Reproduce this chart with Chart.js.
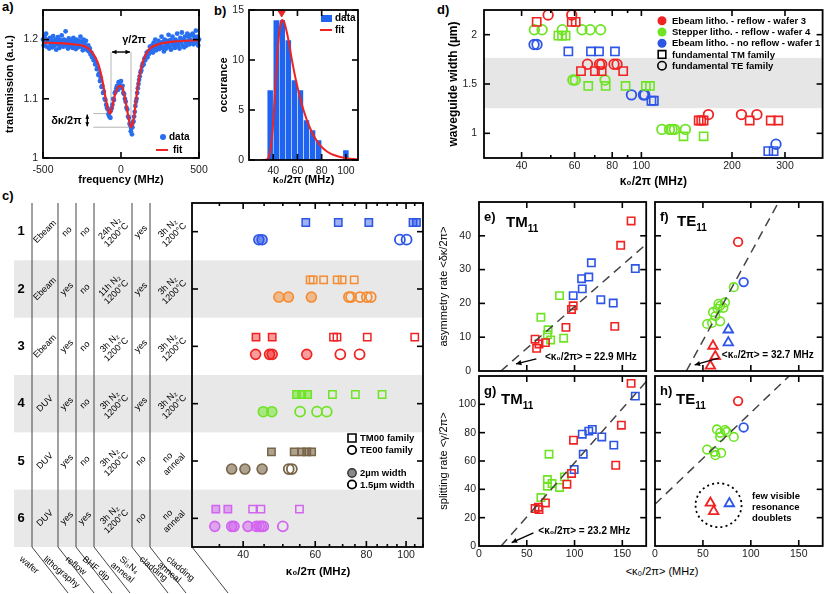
<!DOCTYPE html>
<html>
<head>
<meta charset="utf-8">
<title>resonance splitting</title>
<script src="https://cdn.jsdelivr.net/npm/chart.js@4.4.1/dist/chart.umd.min.js"></script>
<style>
  body { margin: 0; width: 830px; height: 594px; position: relative; overflow: hidden; background: #fff;
         font-family: 'Liberation Sans', Arial, sans-serif; color: #000; }
  .tag { position: absolute; font-weight: bold; font-size: 13px; line-height: 13px; }
  .ttl { position: absolute; font-size: 11px; text-align: center; white-space: nowrap; }
</style>
</head>
<body>
<div class="tag" style="left:2px;top:0px">a)</div>
<div class="tag" style="left:214px;top:4px">b)</div>
<div class="tag" style="left:2px;top:189px">c)</div>
<div class="tag" style="left:437px;top:3px">d)</div>
<div class="ttl" style="left:602px;top:565px;width:120px">&lt;κ₀/2π&gt; (MHz)</div>
<script>
// ---------- a) transmission trace (frequency MHz, transmission) ----------
const traceA = [
  [-500,1.2],[-495,1.19],[-490,1.205],[-485,1.195],[-480,1.21],[-475,1.188],[-470,1.2],[-465,1.197],[-460,1.185],[-455,1.203],
  [-450,1.192],[-445,1.199],[-440,1.187],[-435,1.206],[-430,1.195],[-425,1.19],[-420,1.2],[-415,1.183],[-410,1.197],[-405,1.204],
  [-400,1.192],[-395,1.186],[-390,1.199],[-385,1.19],[-380,1.207],[-375,1.196],[-370,1.188],[-365,1.2],[-360,1.193],[-355,1.214],
  [-350,1.19],[-345,1.198],[-340,1.185],[-335,1.202],[-330,1.195],[-325,1.189],[-320,1.199],[-315,1.194],[-310,1.186],[-305,1.203],
  [-300,1.191],[-295,1.197],[-290,1.184],[-285,1.2],[-280,1.193],[-275,1.187],[-270,1.198],[-265,1.19],[-260,1.205],[-255,1.188],
  [-250,1.196],[-245,1.182],[-240,1.2],[-235,1.193],[-230,1.186],[-225,1.198],[-220,1.188],[-215,1.182],[-210,1.19],[-205,1.18],
  [-200,1.185],[-195,1.175],[-190,1.178],[-185,1.17],[-180,1.172],[-175,1.165],[-170,1.168],[-165,1.158],[-160,1.16],[-155,1.15],
  [-150,1.152],[-145,1.14],[-140,1.143],[-135,1.13],[-130,1.135],[-125,1.12],[-120,1.122],[-115,1.11],[-110,1.112],[-105,1.1],
  [-100,1.098],[-95,1.09],[-90,1.085],[-85,1.082],[-80,1.074],[-75,1.07],[-72,1.078],[-68,1.068],[-65,1.08],[-60,1.084],
  [-55,1.09],[-50,1.1],[-45,1.098],[-40,1.11],[-35,1.112],[-30,1.118],[-25,1.122],[-20,1.115],[-15,1.128],[-10,1.125],
  [-5,1.12],[0,1.13],[5,1.118],[10,1.122],[15,1.11],[20,1.108],[25,1.1],[30,1.095],[35,1.085],[40,1.082],
  [45,1.07],[50,1.068],[55,1.058],[60,1.055],[63,1.045],[66,1.05],[70,1.04],[73,1.052],[76,1.06],[80,1.062],
  [84,1.07],[88,1.078],[92,1.088],[96,1.095],[100,1.1],[104,1.11],[108,1.118],[112,1.125],[116,1.132],[120,1.138],
  [125,1.145],[130,1.148],[135,1.155],[140,1.16],[145,1.158],[150,1.168],[155,1.165],[160,1.172],[165,1.178],[170,1.17],
  [175,1.18],[180,1.176],[185,1.188],[190,1.18],[195,1.185],[200,1.19],[205,1.178],[210,1.195],[215,1.185],[220,1.2],
  [225,1.182],[230,1.192],[235,1.188],[240,1.198],[245,1.184],[250,1.195],[255,1.19],[260,1.205],[265,1.186],[270,1.196],
  [275,1.18],[280,1.2],[285,1.19],[290,1.185],[295,1.198],[300,1.192],[305,1.208],[310,1.188],[315,1.199],[320,1.183],
  [325,1.195],[330,1.205],[335,1.19],[340,1.198],[345,1.186],[350,1.2],[355,1.193],[360,1.21],[365,1.19],[370,1.197],
  [375,1.185],[380,1.203],[385,1.195],[390,1.212],[395,1.19],[400,1.2],[405,1.187],[410,1.205],[415,1.196],[420,1.19],
  [425,1.21],[430,1.198],[435,1.205],[440,1.192],[445,1.2],[450,1.208],[455,1.196],[460,1.21],[465,1.192],[470,1.205],
  [475,1.2],[480,1.215],[485,1.195],[490,1.205],[495,1.19],[500,1.2]
];
const fitA = [
  [-500,1.195],[-400,1.194],[-300,1.192],[-250,1.19],[-220,1.187],[-190,1.18],[-165,1.17],[-145,1.158],[-125,1.138],
  [-110,1.118],[-100,1.103],[-90,1.09],[-80,1.079],[-70,1.075],[-60,1.082],[-45,1.1],[-30,1.114],[-15,1.121],[0,1.122],
  [10,1.118],[25,1.102],[40,1.08],[55,1.06],[65,1.052],[75,1.058],[85,1.072],[95,1.095],[105,1.115],[115,1.133],
  [130,1.152],[145,1.166],[165,1.178],[190,1.186],[250,1.193],[350,1.197],[500,1.199]
];
const gammaMarks = [-64, 64];      // dip frequencies
const dipLevels = [1.075, 1.052];  // dip transmissions

// ---------- b) histogram of intrinsic linewidths ----------
const binCenters = [37.5, 42.5, 47.5, 52.5, 57.5, 62.5, 67.5, 72.5, 77.5, 100];
const binCounts = [7, 14, 14, 12, 8, 7, 4, 3, 2, 1];
const fitB = [
  [30,0],[34,0.02],[36,0.2],[38,1.2],[40,3.8],[42,7.8],[44,11.5],[46,13.6],[47.5,14],[49,13.8],[51,12.9],[53,11.7],
  [55,10.3],[58,8.4],[61,6.8],[65,5],[70,3.3],[75,2.1],[80,1.3],[85,0.8],[90,0.5],[100,0.18],[110,0.06]
];
const peakB = [[47, 14.7]];

// ---------- c) process table and linewidths per wafer ----------
const waferNames = ['1', '2', '3', '4', '5', '6'];
const tableCells = [
  ['Ebeam', 'no', 'no', ['24h N₂', '1200°C'], 'yes', ['3h N₂', '1200°C']],
  ['Ebeam', 'yes', 'no', ['11h N₂', '1200°C'], 'yes', ['3h N₂', '1200°C']],
  ['Ebeam', 'yes', 'no', ['3h N₂', '1200°C'], 'yes', ['3h N₂', '1200°C']],
  ['DUV', 'yes', 'no', ['3h N₂', '1200°C'], 'yes', ['3h N₂', '1200°C']],
  ['DUV', 'yes', 'no', ['3h N₂', '1200°C'], 'no', ['no', 'anneal']],
  ['DUV', 'yes', 'yes', ['3h N₂', '1200°C'], 'no', ['no', 'anneal']]
];
const tableHeads = [['wafer'], ['lithography'], ['reflow'], ['BHF dip'], ['Si₃N₄', 'anneal'], ['cladding'], ['cladding', 'anneal']];
const cSqFilled = [[56.9, 68.3, 81.1, 104, 106], [], [43.0, 47.1], [54.0, 55.6, 57.5], [46.9, 53.3, 55.6, 57.2, 58.8], [34.3, 36.7]];
const cSqOpen = [[], [58.3, 59.3, 62.9, 67.9, 69.8, 74.7], [66.5, 67.8, 80.4, 105], [66.1, 75.2, 87.4], [], [42.2, 44.2, 54.9]];
const cCiFilled = [[43.7, 44.5], [48.9, 51.6, 58.7], [42.9, 46.4, 47.1, 57.2], [44.8, 47.0], [37.5, 40.4, 44.5], [34.1, 37.5, 38.0, 41.1, 43.1, 43.8]];
const cCiOpen = [[96.6, 100.3], [72.5, 73.4, 77.2, 80.2, 82.0], [69.1, 77.0], [55.1, 60.6, 64.0], [51.7, 52.6], [44.3, 44.8, 50.0]];

// ---------- d) waveguide width vs linewidth ----------
const dRedCi = [[49,2.2],[58.7,2.2],[66.2,1.7],[72.6,1.7],[73.8,1.7],[81.1,1.7],[83,1.7],[167,1.19],[215,1.19],[242,1.19]];
const dRedSq = [[44.9,2.13],[58.7,2.13],[60.5,2.13],[63,1.63],[70.1,1.63],[73.8,1.63],[87,1.63],[155,1.13],[158,1.13],[161,1.13],[229,1.13],[269,1.13],[285,1.13]];
const dGreenCi = [[44.1,2.05],[46.8,2.05],[54.6,2.05],[63.5,2.05],[67.6,2.05],[73.2,2.05],[59.2,1.54],[60.3,1.54],[75.7,1.54],[117,1.04],[124,1.04],[126.5,1.04],[128.8,1.04],[140,1.04]];
const dGreenSq = [[53,1.99],[54.5,1.99],[56,1.99],[66.6,1.48],[76.1,1.48],[88.6,1.48],[103.5,1.48],[106.8,1.48],[138,0.97],[161,0.97]];
const dBlueCi = [[44,1.9],[45,1.9],[92.7,1.39],[101.6,1.39],[102.6,1.39],[280,0.89]];
const dBlueSq = [[57.2,1.83],[68,1.83],[72.3,1.83],[81.7,1.83],[108,1.33],[110,1.33],[264,0.82],[275,0.82]];
const widthBand = [1.255, 1.765];

// ---------- e)-h) asymmetry and splitting rates ----------
const eRed = [[159.2,44.4],[148.3,37.2],[142.1,13.2],[98.6,19.3],[96.8,18.2],[91.0,12.9],[58.7,9.4],[62.8,8.0],[60.3,6.7],[69.5,8.4]];
const eGreen = [[84.3,22.3],[64.8,15.9],[72.3,12.2],[71.6,10.7],[75,9.2],[88.6,9.7]];
const eBlue = [[163.6,30.3],[117.6,32.0],[107.4,27.3],[114.9,27.8],[108.1,24.3],[98.6,22.3],[127.5,21.1],[140.5,20.1]];
const eFit = [[22.9,0],[175,37.5]];
const fRed = [[86.7,38.2]];
const fBlue = [[92.5,26.3]];
const fGreen = [[82.2,24.8],[73.1,20.3],[68,19.3],[65.3,18.4],[71.4,18.7],[60.5,17.4],[62.9,16.2],[68,14.7],[54.4,13.9],[59.5,14.2],[66.3,19.9]];
const fRedTri = [[60.5,7.4],[62.9,4.3],[57.8,1.5]];
const fBlueTri = [[76.5,12.2],[76.5,8.4]];
const fFit = [[32.7,0],[129,50]];
const gRed = [[159.2,114.8],[149,85.3],[98.9,74.7],[143.1,57],[96.8,51.2],[92,43.6],[69.5,30.4],[58.7,26.4],[62.8,25.7],[62.1,27.4]];
const gGreen = [[73.3,64.8],[89.4,48.8],[71.6,46.9],[76.4,44.1],[71.6,42.2],[84.3,41.3],[64.8,34.2]];
const gBlue = [[108.1,78.9],[114.9,81.1],[118.6,82.3],[128.5,77],[141.1,71.2],[109.1,64.8],[99.6,54],[163.6,105.8]];
const gFit = [[23.2,0],[175,116]];
const hRed = [[86.7,102.3]];
const hBlue = [[92.5,83.7]];
const hGreen = [[64.6,82.3],[73.1,81.8],[68,79.9],[75,80.5],[82.2,77],[68,77],[54.4,68.1],[61.9,66.5],[69,65.7],[63,64.1]];
const hRedTri = [[57.8,30.4],[61.2,24.5]];
const hBlueTri = [[77.6,30]];
const hFit = [[0,29.5],[140,120]];

// ---------- styling ----------
const FONT = "'Liberation Sans', Arial, sans-serif";
const RED = 'rgb(240,35,35)', GREEN = 'rgb(110,228,35)', BLUE = 'rgb(45,85,230)';
const rowColors = [BLUE, 'rgb(245,140,50)', RED, GREEN, 'rgb(120,100,70)', 'rgb(210,100,240)'];
const rowFills = ['rgba(45,85,230,0.45)', 'rgba(245,140,50,0.5)', 'rgba(240,35,35,0.45)', 'rgba(110,228,35,0.5)', 'rgba(120,100,70,0.6)', 'rgba(210,100,240,0.5)'];

Chart.defaults.font.family = FONT;
Chart.defaults.color = '#222';

function makeCanvas(left, top, w, h) {
  const c = document.createElement('canvas');
  c.width = w; c.height = h;
  c.style.cssText = 'position:absolute;left:' + left + 'px;top:' + top + 'px;width:' + w + 'px;height:' + h + 'px';
  document.body.appendChild(c);
  return c.getContext('2d');
}

// one axis; its box size is forced so that the plot area lands where the reference has it
function axis(min, max, labels, o) {
  return {
    type: o.type || 'linear', min: min, max: max, reverse: !!o.reverse, offset: false,
    grid: { display: false, drawTicks: true, tickLength: o.gap == null ? 4 : o.gap },
    border: { display: false },
    ticks: { display: o.hide !== true, padding: 0, autoSkip: false, maxRotation: 0, color: '#222',
             font: { size: 10.5 }, callback: v => String(v) },
    afterBuildTicks: s => { s.ticks = labels.map(v => ({ value: v })); },
    afterFit: s => { if (o.w != null) s.width = o.w; if (o.h != null) s.height = o.h; },
    title: o.title ? { display: true, text: o.title, color: '#000',
                       font: { size: o.ts || 11, weight: o.tw || 'bold' }, padding: { top: o.tp, bottom: o.tp } }
                   : { display: false }
  };
}

function pts(arr) { return arr.map(p => ({ x: p[0], y: p[1] })); }

function scat(arr, style, color, r, fill, lw) {
  return { type: 'scatter', data: pts(arr), pointStyle: style, pointRadius: r, pointHoverRadius: r,
           borderColor: color, backgroundColor: fill || 'rgba(0,0,0,0)', pointBorderWidth: lw == null ? 1.6 : lw,
           pointBorderColor: color, pointBackgroundColor: fill || 'rgba(0,0,0,0)', showLine: false, clip: false };
}

function dashed(arr) {
  return { type: 'line', data: pts(arr), borderColor: '#444', borderWidth: 1.5, borderDash: [9, 6],
           pointRadius: 0, fill: false };
}

// drawing helpers for annotations
function seg(ctx, x1, y1, x2, y2) { ctx.beginPath(); ctx.moveTo(x1, y1); ctx.lineTo(x2, y2); ctx.stroke(); }
function head(ctx, xf, yf, xt, yt, s) {
  const a = Math.atan2(yt - yf, xt - xf);
  ctx.beginPath(); ctx.moveTo(xt, yt);
  ctx.lineTo(xt - s * Math.cos(a - 0.45), yt - s * Math.sin(a - 0.45));
  ctx.lineTo(xt - s * Math.cos(a + 0.45), yt - s * Math.sin(a + 0.45));
  ctx.closePath(); ctx.fill();
}
function arrow(ctx, x1, y1, x2, y2, s, both) {
  seg(ctx, x1, y1, x2, y2); head(ctx, x1, y1, x2, y2, s); if (both) head(ctx, x2, y2, x1, y1, s);
}
function txt(ctx, s, x, y, size, weight, align, base) {
  ctx.font = (weight || 'bold') + ' ' + size + 'px ' + FONT;
  ctx.textAlign = align || 'left'; ctx.textBaseline = base || 'middle'; ctx.fillStyle = '#000';
  ctx.fillText(s, x, y);
}
function subText(ctx, base, sub, x, y, size, subSize) {
  txt(ctx, base, x, y, size, 'bold', 'left', 'alphabetic');
  const w = ctx.measureText(base).width;
  txt(ctx, sub, x + w, y + size * 0.3, subSize, 'bold', 'left', 'alphabetic');
}
function mark(ctx, kind, x, y, r, stroke, fill, lw) {
  ctx.beginPath();
  if (kind === 'circle') ctx.arc(x, y, r, 0, Math.PI * 2);
  else if (kind === 'rect') ctx.rect(x - r, y - r, 2 * r, 2 * r);
  if (fill) { ctx.fillStyle = fill; ctx.fill(); }
  if (stroke) { ctx.strokeStyle = stroke; ctx.lineWidth = lw; ctx.stroke(); }
}

// box with inward ticks on all four sides
function frame(chart, f) {
  const { ctx, chartArea: a } = chart;
  const sx = chart.scales.x, sy = chart.scales.y;
  ctx.save();
  ctx.strokeStyle = '#000'; ctx.lineWidth = 1.6;
  const xt = (vals, len) => (vals || []).forEach(v => {
    const p = sx.getPixelForValue(v);
    seg(ctx, p, a.bottom, p, a.bottom - len); seg(ctx, p, a.top, p, a.top + len);
  });
  const yt = (vals, len) => (vals || []).forEach(v => {
    const p = sy.getPixelForValue(v);
    seg(ctx, a.left, p, a.left + len, p); seg(ctx, a.right, p, a.right - len, p);
  });
  xt(f.x, 6); xt(f.xm, 3); yt(f.y, 6); yt(f.ym, 3);
  ctx.lineWidth = 1.8;
  ctx.strokeRect(a.left, a.top, a.right - a.left, a.bottom - a.top);
  ctx.restore();
}

function decor(before, after) {
  return {
    id: 'decor',
    beforeDatasetsDraw(chart) { if (before) { chart.ctx.save(); before(chart); chart.ctx.restore(); } },
    afterDraw(chart) { if (after) { chart.ctx.save(); after(chart); chart.ctx.restore(); } }
  };
}

function panel(box, type, datasets, scales, before, after) {
  const ctx = makeCanvas(box[0], box[1], box[2], box[3]);
  return new Chart(ctx, {
    type: type,
    data: { datasets: datasets },
    options: {
      responsive: false, animation: false, devicePixelRatio: 1,
      layout: { padding: { top: box[4], right: box[5], bottom: 0, left: 0 } },
      scales: scales,
      plugins: { legend: { display: false }, tooltip: { enabled: false } }
    },
    plugins: [decor(before, after)]
  });
}

function px(chart) {
  return [v => chart.scales.x.getPixelForValue(v), v => chart.scales.y.getPixelForValue(v)];
}

// ---------- a) ----------
panel([0, 0, 218, 194, 10, 19], 'scatter', [
  { type: 'line', data: pts(fitA), borderColor: RED, borderWidth: 2.2, pointRadius: 0, cubicInterpolationMode: 'monotone', fill: false },
  scat(traceA, 'circle', 'rgb(40,110,240)', 2.4, 'rgb(40,110,240)', 0)
], {
  x: axis(-500, 500, [-500, 0, 500], { h: 36, gap: 6, title: 'frequency (MHz)', tp: 7 }),
  y: axis(1, 1.25, [1, 1.1, 1.2], { w: 43, gap: 5, title: 'transmission (a.u.)', tp: 3 })
}, chart => {
  const [X, Y] = px(chart), ctx = chart.ctx;
  ctx.strokeStyle = '#b5b5b5'; ctx.lineWidth = 1;
  seg(ctx, X(gammaMarks[0]), Y(1.179), X(gammaMarks[0]), Y(dipLevels[0]));
  seg(ctx, X(gammaMarks[1]), Y(1.179), X(gammaMarks[1]), Y(dipLevels[1]));
  seg(ctx, X(-177), Y(dipLevels[0]), X(gammaMarks[0]), Y(dipLevels[0]));
  seg(ctx, X(-177), Y(dipLevels[1]), X(gammaMarks[1]), Y(dipLevels[1]));
}, chart => {
  const [X, Y] = px(chart), ctx = chart.ctx;
  ctx.strokeStyle = '#000'; ctx.fillStyle = '#000'; ctx.lineWidth = 1.4;
  arrow(ctx, X(gammaMarks[0]) + 1, Y(1.179), X(gammaMarks[1]) - 1, Y(1.179), 5, true);
  arrow(ctx, X(-216), Y(dipLevels[0]) + 1, X(-216), Y(dipLevels[1]) - 1, 4.5, true);
  txt(ctx, 'γ/2π', X(8), Y(1.2), 11);
  txt(ctx, 'δκ/2π', X(-350), Y(1.063), 11, 'bold', 'center');
  mark(ctx, 'circle', 163, 137, 3, null, 'rgb(40,110,240)');
  txt(ctx, 'data', 169, 137.5, 10);
  ctx.strokeStyle = RED; ctx.lineWidth = 2; seg(ctx, 156, 150, 168, 150);
  txt(ctx, 'fit', 173, 150.5, 10);
  frame(chart, { x: [-500, 0, 500], y: [1, 1.1, 1.2] });
});

// ---------- b) ----------
panel([212, 0, 158, 194, 10, 12], 'bar', [
  { type: 'scatter', data: pts(peakB), pointStyle: 'triangle', rotation: 180, pointRadius: 4, backgroundColor: RED,
    borderColor: RED, pointBackgroundColor: RED, pointBorderColor: RED, clip: false },
  { type: 'line', data: pts(fitB), borderColor: RED, borderWidth: 2, pointRadius: 0, cubicInterpolationMode: 'monotone', fill: false },
  { type: 'bar', data: binCenters.map((c, i) => ({ x: c, y: binCounts[i] })), backgroundColor: 'rgb(30,100,240)',
    borderColor: 'rgba(255,255,255,0.35)', borderWidth: 0.6, barPercentage: 1, categoryPercentage: 1 }
], {
  x: axis(20, 110, [40, 60, 80, 100], { h: 34, gap: 5, title: 'κ₀/2π (MHz)', tp: 7 }),
  y: axis(0, 15, [0, 5, 10, 15], { w: 37, gap: 5, title: 'occurance', tp: 5 })
}, null, chart => {
  const ctx = chart.ctx;   // canvas starts at x = 212
  ctx.fillStyle = 'rgb(30,100,240)'; ctx.fillRect(109, 15, 11, 7);
  txt(ctx, 'data', 123, 18.5, 10);
  ctx.strokeStyle = RED; ctx.lineWidth = 2; seg(ctx, 108, 30, 120, 30);
  txt(ctx, 'fit', 123, 30.5, 10);
  frame(chart, { x: [40, 60, 80, 100], y: [0, 5, 10, 15] });
});

// ---------- c) ----------
const cSets = [];
rowColors.forEach((col, i) => {
  const r = i + 1;
  cSets.push(scat(cSqFilled[i].map(v => [v, r - 0.16]), 'rect', col, 5.2, rowFills[i], 1.5));
  cSets.push(scat(cSqOpen[i].map(v => [v, r - 0.16]), 'rect', col, 5.2, null, 1.5));
  cSets.push(scat(cCiFilled[i].map(v => [v, r + 0.14]), 'circle', col, 5, rowFills[i], 1.6));
  cSets.push(scat(cCiOpen[i].map(v => [v, r + 0.14]), 'circle', col, 5, null, 1.8));
});
panel([0, 190, 430, 404, 13, 7], 'scatter', cSets, {
  x: axis(30, 110, [40, 60, 80, 100], { type: 'logarithmic', h: 47, gap: 2 }),
  y: axis(0.5, 6.5, [], { w: 192, reverse: true, hide: true })
}, chart => {
  const [X, Y] = px(chart), ctx = chart.ctx, a = chart.chartArea;
  ctx.fillStyle = '#e8e8e8';
  [2, 4, 6].forEach(r => ctx.fillRect(14, Y(r - 0.5), a.right - 14, Y(r + 0.5) - Y(r - 0.5)));
}, chart => {
  const [X, Y] = px(chart), ctx = chart.ctx, a = chart.chartArea;
  const T = 190;   // canvas top on the page
  // table grid
  const lines = [32, 58, 76, 94, 132, 150];
  ctx.strokeStyle = '#444'; ctx.lineWidth = 1;
  lines.forEach(x => { seg(ctx, x, a.top, x, a.bottom); seg(ctx, x, a.bottom, x + 36, a.bottom + 46); });
  seg(ctx, a.left, a.bottom, a.left + 36, a.bottom + 46);
  const cols = [45, 67, 85, 113, 141, 171];
  waferNames.forEach((n, i) => {
    const yc = Y(i + 1);
    txt(ctx, n, 21, yc, 13, 'bold', 'center');
    tableCells[i].forEach((cell, j) => {
      ctx.save(); ctx.translate(cols[j], yc); ctx.rotate(-Math.PI / 4);
      const ls = Array.isArray(cell) ? cell : [cell];
      ls.forEach((s, k) => txt(ctx, s, 0, (k - (ls.length - 1) / 2) * 9.5, 9, 'normal', 'center'));
      ctx.restore();
    });
  });
  const headX = [33, 57, 79, 96, 133, 153, 180];
  tableHeads.forEach((h, j) => {
    ctx.save(); ctx.translate(headX[j] - 14, 560 - T); ctx.rotate(0.7);
    h.forEach((s, k) => txt(ctx, s, -k * 3, k * 10, 9, 'normal', 'left', 'alphabetic'));
    ctx.restore();
  });
  // legend
  mark(ctx, 'rect', 352, 438 - T, 4, '#000', null, 1.6); txt(ctx, 'TM00 family', 360, 438.5 - T, 9.5);
  mark(ctx, 'circle', 352, 450 - T, 4.2, '#000', null, 1.8); txt(ctx, 'TE00 family', 360, 450.5 - T, 9.5);
  mark(ctx, 'circle', 352, 473 - T, 4.2, '#333', '#888', 1.4); txt(ctx, '2µm width', 360, 473.5 - T, 9.5);
  mark(ctx, 'circle', 352, 484.5 - T, 4.2, '#000', null, 1.8); txt(ctx, '1.5µm width', 360, 485 - T, 9.5);
  txt(ctx, 'κ₀/2π (MHz)', 318, 572 - T, 11.5, 'bold', 'center');
  frame(chart, { x: [40, 60, 80, 100], xm: [35, 45, 50, 55, 65, 70, 75, 85, 90, 95, 105, 110], y: [1, 2, 3, 4, 5, 6] });
});

// ---------- d) ----------
panel([430, 0, 400, 194, 10, 5], 'scatter', [
  scat(dRedCi, 'circle', RED, 4.8, null, 1.8), scat(dRedSq, 'rect', RED, 5.8, null, 1.6),
  scat(dGreenCi, 'circle', GREEN, 4.8, null, 1.8), scat(dGreenSq, 'rect', GREEN, 5.8, null, 1.6),
  scat(dBlueCi, 'circle', BLUE, 4.8, null, 1.8), scat(dBlueSq, 'rect', BLUE, 5.8, null, 1.6)
], {
  x: axis(30, 400, [40, 60, 80, 100, 200, 300], { type: 'logarithmic', h: 36, gap: 2, title: 'κ₀/2π (MHz)', tp: 5, ts: 12 }),
  y: axis(0.75, 2.25, [1, 1.5, 2], { w: 54, gap: 7, title: 'waveguide width (µm)', tp: 16, ts: 12 })
}, chart => {
  const [X, Y] = px(chart), ctx = chart.ctx, a = chart.chartArea;
  ctx.fillStyle = '#e6e6e6';
  ctx.fillRect(a.left, Y(widthBand[1]), a.right - a.left, Y(widthBand[0]) - Y(widthBand[1]));
}, chart => {
  const ctx = chart.ctx;   // canvas starts at x = 430
  const leg = [['circle', RED, RED, 'Ebeam litho. - reflow - wafer 3'], ['circle', GREEN, GREEN, 'Stepper litho. - reflow - wafer 4'],
               ['circle', BLUE, BLUE, 'Ebeam litho. - no reflow - wafer 1'], ['rect', null, '#000', 'fundamental TM family'],
               ['circle', null, '#000', 'fundamental TE family']];
  leg.forEach((l, i) => {
    const y = 20.7 + i * 11.25;
    if (l[1]) mark(ctx, 'circle', 232, y, 4.5, null, l[1]);
    else mark(ctx, l[0], 232, y, l[0] === 'rect' ? 3.8 : 4.2, '#000', null, 1.6);
    txt(ctx, l[3], 242, y + 0.5, 9.5);
  });
  frame(chart, { x: [40, 60, 80, 100, 200, 300], xm: [50, 70, 90], y: [1, 1.5, 2] });
});

// ---------- e) ----------
function cornerLabel(ctx, a, letter, base, dx, dy) {
  txt(ctx, letter, a.left + 5, a.top + 19, 13, 'bold', 'left', 'alphabetic');
  subText(ctx, base, '11', a.left + dx, a.top + dy, 15, 10);
}
panel([430, 190, 223, 190, 12, 2], 'scatter', [
  dashed(eFit),
  scat(eRed, 'rect', RED, 5.2, null, 1.6), scat(eGreen, 'rect', GREEN, 5.2, null, 1.6), scat(eBlue, 'rect', BLUE, 5.2, null, 1.6)
], {
  x: axis(0, 175, [], { h: 9, hide: true }),
  y: axis(0, 50, [0, 10, 20, 30, 40], { w: 49, gap: 8, title: 'asymmetry rate <δκ/2π>', tp: 7, tw: 'normal' })
}, null, chart => {
  const [X, Y] = px(chart), ctx = chart.ctx, a = chart.chartArea;
  cornerLabel(ctx, a, 'e)', 'TM', 27, 25);
  ctx.strokeStyle = '#000'; ctx.fillStyle = '#000'; ctx.lineWidth = 1.3;
  arrow(ctx, X(60), Y(3.6), X(38.7), Y(2.1), 6);
  txt(ctx, '<κ₀/2π> = 22.9 MHz', X(69), Y(4.2), 10);
  frame(chart, { x: [50, 100, 150], y: [10, 20, 30, 40] });
});

// ---------- f) ----------
panel([645, 190, 185, 190, 12, 2], 'scatter', [
  dashed(fFit),
  scat(fRed, 'circle', RED, 4.3, null, 1.8), scat(fBlue, 'circle', BLUE, 4.3, null, 1.8),
  scat(fGreen, 'circle', GREEN, 4.3, null, 1.6),
  scat(fRedTri, 'triangle', RED, 5.5, null, 1.8), scat(fBlueTri, 'triangle', BLUE, 5.5, null, 1.8)
], {
  x: axis(0, 175, [], { h: 9, hide: true }),
  y: axis(0, 50, [], { w: 10, hide: true })
}, null, chart => {
  const [X, Y] = px(chart), ctx = chart.ctx, a = chart.chartArea;
  cornerLabel(ctx, a, 'f)', 'TE', 22, 24);
  ctx.strokeStyle = '#000'; ctx.fillStyle = '#000'; ctx.lineWidth = 1.3;
  arrow(ctx, X(66.3), Y(3.8), X(41.4), Y(1.8), 6);
  txt(ctx, '<κ₀/2π> = 32.7 MHz', X(69.7), Y(4.55), 10);
  frame(chart, { x: [50, 100, 150], y: [10, 20, 30, 40] });
});

// ---------- g) ----------
panel([430, 368, 223, 226, 8, 2], 'scatter', [
  dashed(gFit),
  scat(gRed, 'rect', RED, 5.2, null, 1.6), scat(gGreen, 'rect', GREEN, 5.2, null, 1.6), scat(gBlue, 'rect', BLUE, 5.2, null, 1.6)
], {
  x: axis(0, 175, [0, 50, 100, 150], { h: 48, gap: 2 }),
  y: axis(0, 120, [0, 20, 40, 60, 80, 100], { w: 49, gap: 3, title: 'splitting rate <γ/2π>', tp: 7, tw: 'normal' })
}, null, chart => {
  const [X, Y] = px(chart), ctx = chart.ctx, a = chart.chartArea;
  cornerLabel(ctx, a, 'g)', 'TM', 22, 28);
  ctx.strokeStyle = '#000'; ctx.fillStyle = '#000'; ctx.lineWidth = 1.3;
  arrow(ctx, X(57), Y(9.2), X(34.2), Y(2.4), 6);
  txt(ctx, '<κ₀/2π> = 23.2 MHz', X(62.1), Y(10.6), 10);
  frame(chart, { x: [50, 100, 150], y: [20, 40, 60, 80, 100] });
});

// ---------- h) ----------
panel([645, 368, 185, 226, 8, 2], 'scatter', [
  dashed(hFit),
  scat(hRed, 'circle', RED, 4.3, null, 1.8), scat(hBlue, 'circle', BLUE, 4.3, null, 1.8),
  scat(hGreen, 'circle', GREEN, 4.3, null, 1.6),
  scat(hRedTri, 'triangle', RED, 5.5, null, 1.8), scat(hBlueTri, 'triangle', BLUE, 5.5, null, 1.8)
], {
  x: axis(0, 175, [0, 50, 100, 150], { h: 48, gap: 2 }),
  y: axis(0, 120, [], { w: 10, hide: true })
}, null, chart => {
  const [X, Y] = px(chart), ctx = chart.ctx, a = chart.chartArea;
  cornerLabel(ctx, a, 'h)', 'TE', 21, 28);
  ctx.strokeStyle = '#000'; ctx.lineWidth = 1.8; ctx.setLineDash([2, 3.2]);
  ctx.beginPath(); ctx.ellipse(X(66.3), Y(28.8), 23, 22, 0, 0, Math.PI * 2); ctx.stroke();
  ctx.setLineDash([]);
  // canvas starts at (645, 368) on the page
  txt(ctx, 'few visible', 107, 128.7, 9.5);
  txt(ctx, 'resonance', 107, 139.7, 9.5);
  txt(ctx, 'doublets', 107, 150.7, 9.5);
  frame(chart, { x: [50, 100, 150], y: [20, 40, 60, 80, 100] });
});
</script>
</body>
</html>
